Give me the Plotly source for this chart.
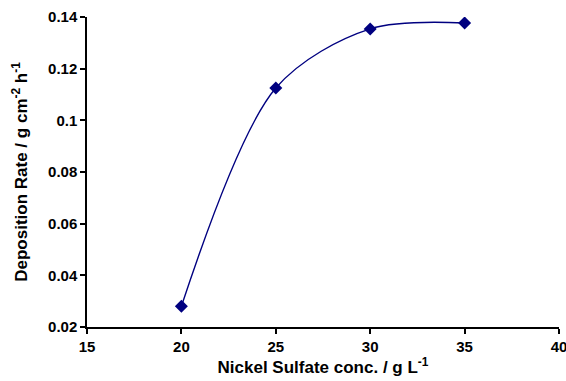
import plotly.graph_objects as go

conc = [20, 25, 30, 35]
rate = [0.028, 0.1125, 0.1354, 0.1377]

x_ticks = [15, 20, 25, 30, 35, 40]
y_ticks = [0.02, 0.04, 0.06, 0.08, 0.1, 0.12, 0.14]
y_tick_labels = ["0.02", "0.04", "0.06", "0.08", "0.1", "0.12", "0.14"]

fig = go.Figure()
fig.add_trace(go.Scatter(
    x=conc, y=rate, mode="lines+markers",
    line=dict(color="#000080", width=1.4, shape="spline", smoothing=0.9),
    marker=dict(symbol="diamond", size=10, color="#000080"),
    showlegend=False,
))

font = dict(family="Liberation Sans, Arial, sans-serif", color="black")
fig.update_layout(
    width=566, height=381,
    margin=dict(l=87, r=7, t=17, b=54),
    plot_bgcolor="white", paper_bgcolor="white",
    font=font,
)
fig.update_xaxes(
    range=[15, 40], tickvals=x_ticks, ticks="outside", ticklen=5, tickwidth=1.5,
    tickcolor="black", showline=True, linecolor="black", linewidth=1.5,
    showgrid=False, zeroline=False, ticklabeloverflow="allow", automargin=False,
    tickfont=dict(size=15, family="Liberation Sans", color="black", weight="bold"),
    title=dict(text="Nickel Sulfate conc. / g L<sup>-1</sup>", standoff=4,
               font=dict(size=17, family="Liberation Sans", color="black", weight="bold")),
)
fig.update_yaxes(
    range=[0.02, 0.14], tickvals=y_ticks, ticktext=y_tick_labels, ticks="outside",
    ticklen=5, tickwidth=1.5, tickcolor="black", showline=True, linecolor="black",
    linewidth=1.5, showgrid=False, zeroline=False, ticklabeloverflow="allow",
    automargin=False,
    tickfont=dict(size=15, family="Liberation Sans", color="black", weight="bold"),
    title=dict(text="Deposition Rate / g cm<sup>-2</sup> h<sup>-1</sup>", standoff=16,
               font=dict(size=17, family="Liberation Sans", color="black", weight="bold")),
)
fig.write_html("out.html")
